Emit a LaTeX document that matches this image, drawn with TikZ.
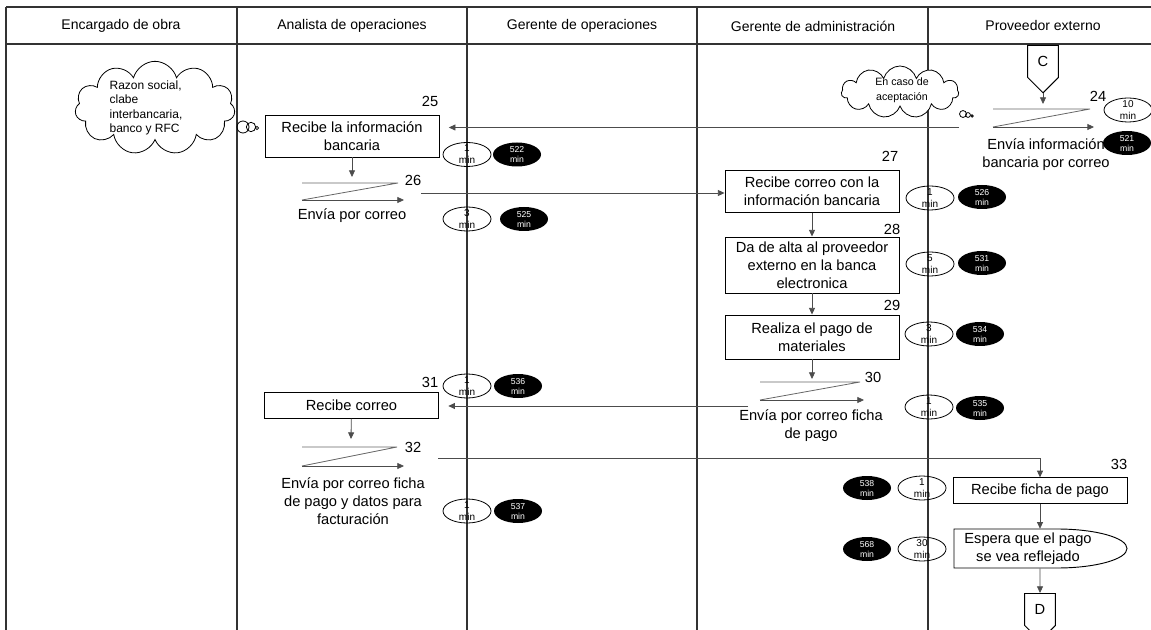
\documentclass[tikz,border=0pt]{standalone}
\usepackage{fontspec}
\setmainfont{Liberation Sans}
\usetikzlibrary{shapes.geometric, shapes.symbols, arrows.meta, positioning}

\begin{document}
\begin{tikzpicture}[x=0.75pt, y=-0.75pt,
        carril/.style={draw=black!80, line width=0.9pt},
        flujo/.style={draw=black!60, line width=0.6pt},
        flecha/.style={draw=black!70, line width=0.6pt, -{Triangle[length=5pt,width=4.5pt]}},
        encabezado/.style={font=\fontsize{10.5}{12}\selectfont},
        proceso/.style={draw=black, line width=0.7pt, minimum width=130.5pt, align=center, inner sep=1pt, font=\fontsize{11}{13.5}\selectfont},
        texto/.style={align=center, inner sep=0pt, font=\fontsize{11}{13.5}\selectfont},
        num/.style={inner sep=0pt, font=\fontsize{11}{13}\selectfont},
        tiempo/.style={ellipse, draw=black, line width=0.6pt, minimum width=36pt, minimum height=18pt, inner sep=-2.5pt, align=center, font=\fontsize{7.5}{9}\selectfont},
        acum/.style={ellipse, fill=black, text=white, minimum width=36pt, minimum height=18pt, inner sep=-2.5pt, align=center, font=\fontsize{6.5}{7.5}\selectfont},
        nube/.style={cloud, cloud puffs=11, cloud ignores aspect, draw=black, line width=0.6pt, fill=white},
        conector/.style={signal, signal to=south, draw=black, line width=0.7pt, minimum width=23pt, minimum height=28pt, inner sep=0pt, font=\fontsize{11}{13}\selectfont}]
    \useasboundingbox (0,0) rectangle (1151,630);

    % carriles
    \draw[carril] (6,7) -- (1151,7);
    \draw[carril] (6,44) -- (1151,44);
    \foreach \x in {6,237,467,697,928}
        \draw[carril] (\x,7) -- (\x,630);
    \node[encabezado] (h1) at (121,26) {Encargado de obra};
    \node[encabezado] (h2) at (352,26) {Analista de operaciones};
    \node[encabezado] (h3) at (582,26) {Gerente de operaciones};
    \node[encabezado] (h4) at (813,26) {Gerente de administración};
    \node[encabezado] (h5) at (1043,26) {Proveedor externo};

    % nubes
    \node[nube, minimum width=120pt, minimum height=70pt] (nube1) at (155,108) {};
    \node[align=left, inner sep=0pt, font=\fontsize{9}{10.7}\selectfont] (nube1txt) at (146,108) {Razon social,\\clabe\\interbancaria,\\banco y RFC};
    \draw[line width=0.6pt] (243,127) circle[radius=4.5pt];
    \draw[line width=0.6pt] (251,127) circle[radius=3.5pt];
    \draw[line width=0.6pt] (257,128) circle[radius=1.2pt];
    \node[nube, minimum width=88pt, minimum height=39pt] (nube2) at (900,92) {};
    \node[align=center, inner sep=0pt, font=\fontsize{8}{11}\selectfont] (nube2txt) at (902,90) {En caso de\\aceptación};
    \draw[line width=0.6pt] (963,114) circle[radius=2.6pt];
    \draw[line width=0.6pt] (968,115) circle[radius=1.8pt];
    \draw[line width=0.6pt] (972,116) circle[radius=0.9pt];

    % 24
    \node[conector, anchor=north] (conC) at (1043,45) {C};
    \coordinate (s24) at (1043,104);
    \draw[flecha] (conC.south) -- (s24);
    \draw[flujo] (993,109) -- (1090,109) -- (993,127);
    \draw[flecha] (993,127) -- (1094,127);
    \node[num] (n24) at (1098,96) {24};
    \node[tiempo] (t24) at (1128,110) {10\\min};
    \node[acum] (a24) at (1127,143) {521\\min};
    \node[texto] (e24) at (1046,155) {Envía información\\bancaria por correo};

    % 25
    \node[proceso, minimum height=31.5pt] (rec25) at (352,136) {Recibe la información\\bancaria};
    \node[num] (n25) at (430,101) {25};
    \node[tiempo] (t25) at (467,154.5) {1\\min};
    \node[acum] (a25) at (517,154.5) {522\\min};
    \coordinate (p24) at (959,127.5);
    \draw[flecha, shorten >=7pt] (p24) -- (p24 -| rec25.east);

    % 26
    \coordinate (s26) at (352,177);
    \draw[flecha] (rec25) -- (s26);
    \draw[flujo] (302,183) -- (398,183) -- (302,200);
    \draw[flecha] (302,200) -- (404,200);
    \node[num] (n26) at (413,180) {26};
    \node[texto] (e26) at (352,216) {Envía por correo};
    \node[tiempo] (t26) at (467,219) {3\\min};
    \node[acum] (a26) at (524,219) {525\\min};

    % 27 - 29
    \node[proceso, minimum height=32pt] (rec27) at (812,191.5) {Recibe correo con la\\información bancaria};
    \node[num] (n27) at (890,156) {27};
    \node[tiempo] (t27) at (930,198) {1\\min};
    \node[acum] (a27) at (982,197) {526\\min};
    \coordinate (p26) at (421,193);
    \draw[flecha] (p26) -- (p26 -| rec27.west);

    \node[proceso, minimum height=42pt] (rec28) at (812,265) {Da de alta al proveedor\\externo en la banca\\electronica};
    \node[num] (n28) at (892,229) {28};
    \node[tiempo] (t28) at (930,264) {5\\min};
    \node[acum] (a28) at (982,263) {531\\min};
    \draw[flecha] (rec27) -- (rec28);

    \node[proceso, minimum height=33pt] (rec29) at (812,337) {Realiza el pago de\\materiales};
    \node[num] (n29) at (892,305) {29};
    \node[tiempo] (t29) at (929,334) {3\\min};
    \node[acum] (a29) at (980,334) {534\\min};
    \draw[flecha] (rec28) -- (rec29);

    % 30
    \coordinate (s30) at (812,379);
    \draw[flecha] (rec29) -- (s30);
    \draw[flujo] (760,382) -- (860,382) -- (760,400);
    \draw[flecha] (760,400) -- (864,400);
    \node[num] (n30) at (873,377) {30};
    \node[texto] (e30) at (811,426) {Envía por correo ficha\\de pago};
    \node[tiempo] (t30) at (929,407) {1\\min};
    \node[acum] (a30) at (980,408) {535\\min};

    % 31
    \node[proceso, minimum height=19pt] (rec31) at (351.5,405.5) {Recibe correo};
    \node[num] (n31) at (430,382) {31};
    \node[tiempo] (t31) at (467,386) {1\\min};
    \node[acum] (a31) at (518,386) {536\\min};
    \coordinate (p30) at (748,406);
    \draw[flecha, shorten >=7pt] (p30) -- (p30 -| rec31.east);

    % 32
    \coordinate (s32) at (351,439);
    \draw[flecha] (rec31) -- (s32);
    \draw[flujo] (302,447) -- (397,447) -- (302,466);
    \draw[flecha] (302,466) -- (404,466);
    \node[num] (n32) at (413,447) {32};
    \node[texto] (e32) at (353,501) {Envía por correo ficha\\de pago y datos para\\facturación};
    \node[tiempo] (t32) at (467,511) {1\\min};
    \node[acum] (a32) at (518,511) {537\\min};

    % 33
    \node[proceso, minimum height=19pt] (rec33) at (1040,490.5) {Recibe ficha de pago};
    \node[num] (n33) at (1119,464) {33};
    \node[tiempo] (t33) at (922,488) {1\\min};
    \node[acum] (a33) at (867,488) {538\\min};
    \coordinate (p32) at (438,458);
    \draw[flecha] (p32) -| (rec33.north);

    % espera
    \node[texto, minimum height=29.25pt] (espera) at (1028,548.5) {Espera que el pago\\se vea reflejado};
    \draw[line width=0.7pt] (954,529) -- (1057,529) .. controls (1095.6,529) and (1127,537.7) .. (1127,548.5)
        .. controls (1127,559.3) and (1095.6,568) .. (1057,568) -- (954,568) -- cycle;
    \node[tiempo] (t34) at (922,549) {30\\min};
    \node[acum] (a34) at (867,549) {568\\min};
    \draw[flecha] (rec33) -- (rec33 |- espera.north);
    \node[conector, anchor=north] (conD) at (1040,593) {D};
    \draw[flecha] (rec33 |- espera.south) -- (conD);
\end{tikzpicture}
\end{document}
